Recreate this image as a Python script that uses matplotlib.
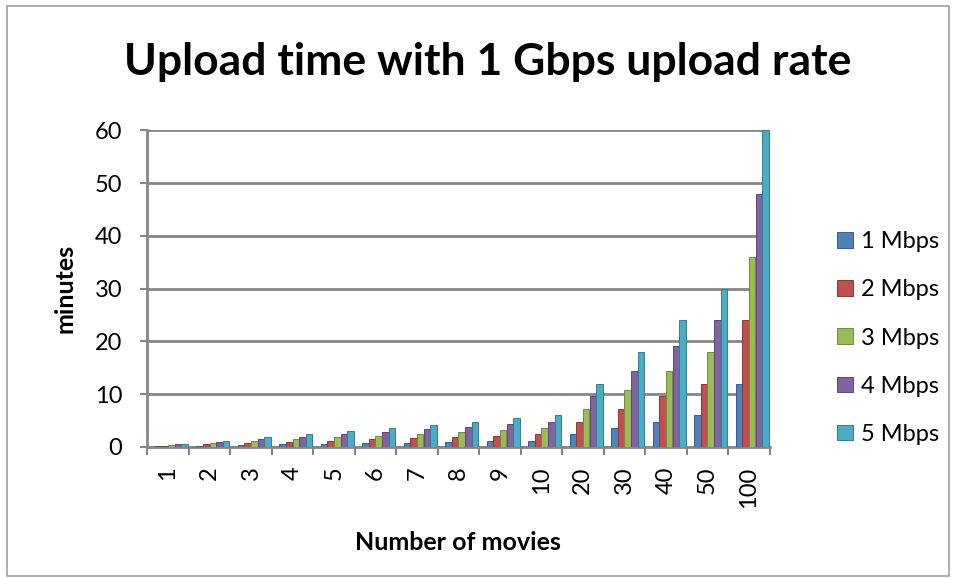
import matplotlib.pyplot as plt
import numpy as np
from matplotlib.patches import Rectangle

plt.rcParams["font.family"] = ["Lato", "DejaVu Sans"]

movies = ["1", "2", "3", "4", "5", "6", "7", "8", "9", "10", "20", "30", "40", "50", "100"]
series_names = ["1 Mbps", "2 Mbps", "3 Mbps", "4 Mbps", "5 Mbps"]
mbps_1 = [0.12, 0.24, 0.36, 0.48, 0.6, 0.72, 0.84, 0.96, 1.08, 1.2, 2.4, 3.6, 4.8, 6, 12]
mbps_2 = [0.24, 0.48, 0.72, 0.96, 1.2, 1.44, 1.68, 1.92, 2.16, 2.4, 4.8, 7.2, 9.6, 12, 24]
mbps_3 = [0.36, 0.72, 1.08, 1.44, 1.8, 2.16, 2.52, 2.88, 3.24, 3.6, 7.2, 10.8, 14.4, 18, 36]
mbps_4 = [0.48, 0.96, 1.44, 1.92, 2.4, 2.88, 3.36, 3.84, 4.32, 4.8, 9.6, 14.4, 19.2, 24, 48]
mbps_5 = [0.6, 1.2, 1.8, 2.4, 3, 3.6, 4.2, 4.8, 5.4, 6, 12, 18, 24, 30, 60]
colors = ["#4F81BD", "#C0504D", "#9BBB59", "#8064A2", "#4BACC6"]
edge_colors = ["#385D8A", "#8C3836", "#71893F", "#5C4776", "#357D91"]

fig = plt.figure(figsize=(9.56, 5.79), dpi=100)
ax = fig.add_axes([0.154, 0.228, 0.651, 0.547])

x = np.arange(len(movies))
width = 0.16
series = [mbps_1, mbps_2, mbps_3, mbps_4, mbps_5]
for i, vals in enumerate(series):
    ax.bar(x + (i - 2) * width + 0.08, vals, width * 0.98, color=colors[i],
           edgecolor=edge_colors[i], linewidth=0.7, label=series_names[i], zorder=3)

ax.set_xlim(-0.5, len(movies) - 0.5)
ax.set_ylim(0, 60)
ax.set_yticks(range(0, 61, 10))
ax.set_xticks(x)
ax.set_xticklabels(movies, rotation=90, fontsize=17)
ax.set_xticks(np.arange(-0.5, len(movies)), minor=True)
ax.tick_params(axis="x", which="major", length=0, pad=14)
ax.tick_params(axis="x", which="minor", length=6, width=1.5, color="#868686")
ax.tick_params(axis="y", labelsize=17, length=5, width=1.5, color="#868686", pad=13)

ax.yaxis.grid(True, color="#868686", linewidth=2)
for s in ["top", "right"]:
    ax.spines[s].set_visible(False)
for s in ["left", "bottom"]:
    ax.spines[s].set_color("#868686")
    ax.spines[s].set_linewidth(2)

ax.set_ylabel("minutes", fontsize=18, fontweight="bold")
ax.yaxis.set_label_coords(-0.113, 0.5)
ax.set_xlabel("Number of movies", fontsize=18, fontweight="bold")
ax.xaxis.set_label_coords(0.5, -0.265)

fig.text(0.51, 0.893, "Upload time with 1 Gbps upload rate", fontsize=32,
         fontweight="bold", ha="center", va="center")

ax.legend(loc="center left", bbox_to_anchor=(1.109, 0.344), frameon=False,
          fontsize=17, handlelength=0.64, handleheight=0.64, labelspacing=1.15,
          handletextpad=0.35, borderpad=0, borderaxespad=0)

fig.patches.append(Rectangle((0.007, 0.005), 0.986, 0.985, transform=fig.transFigure,
                             fill=False, edgecolor="#A0A0A0", linewidth=1.2))

fig.savefig("out.png", dpi=100)
